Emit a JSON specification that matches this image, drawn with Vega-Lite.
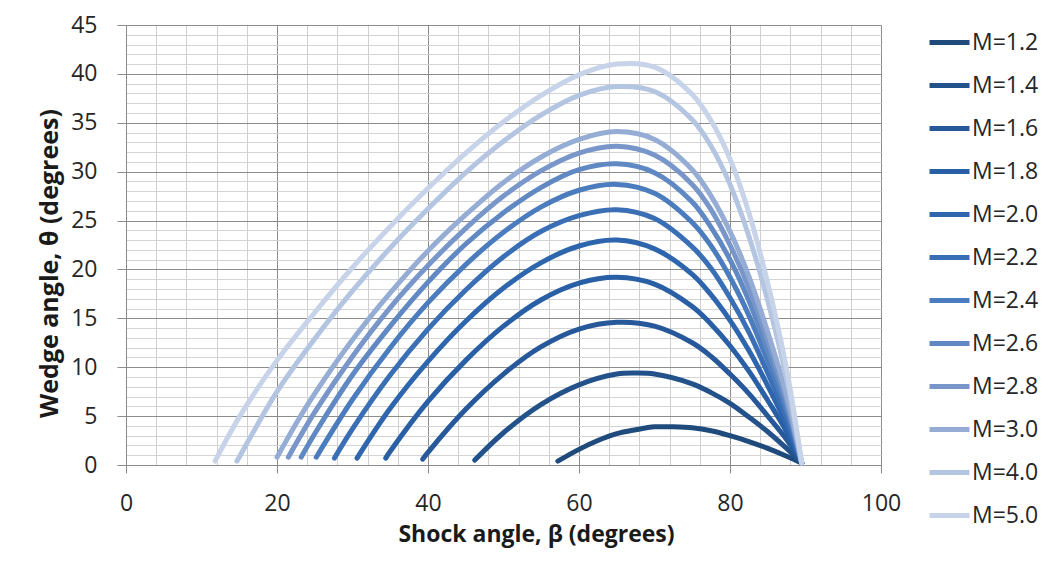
{
  "$schema": "https://vega.github.io/schema/vega-lite/v6.json",
  "width": 755,
  "height": 440,
  "autosize": {"type": "none"},
  "padding": {"left": 126, "top": 25, "right": 175, "bottom": 98},
  "background": "white",
  "config": {
    "font": "Open Sans",
    "view": {"stroke": null},
    "legend": {"labelFont": "Open Sans"}
  },
  "data": {"values": [
    {"M":"M=1.2","b":57.2,"t":0.4},{"M":"M=1.2","b":60,"t":1.6},{"M":"M=1.2","b":62.5,"t":2.5},{"M":"M=1.2","b":65,"t":3.2},{"M":"M=1.2","b":67.5,"t":3.6},{"M":"M=1.2","b":70,"t":3.9},{"M":"M=1.2","b":72.5,"t":3.9},{"M":"M=1.2","b":75,"t":3.8},{"M":"M=1.2","b":77.5,"t":3.5},{"M":"M=1.2","b":80,"t":3.0},{"M":"M=1.2","b":82.5,"t":2.4},{"M":"M=1.2","b":85,"t":1.7},{"M":"M=1.2","b":87.5,"t":0.9},{"M":"M=1.2","b":89.5,"t":0.2},
    {"M":"M=1.4","b":46.2,"t":0.5},{"M":"M=1.4","b":50,"t":3.3},{"M":"M=1.4","b":55,"t":6.2},{"M":"M=1.4","b":60,"t":8.2},{"M":"M=1.4","b":65,"t":9.3},{"M":"M=1.4","b":67.5,"t":9.4},{"M":"M=1.4","b":70,"t":9.3},{"M":"M=1.4","b":75,"t":8.3},{"M":"M=1.4","b":77.5,"t":7.4},{"M":"M=1.4","b":80,"t":6.3},{"M":"M=1.4","b":82.5,"t":4.9},{"M":"M=1.4","b":85,"t":3.4},{"M":"M=1.4","b":87.5,"t":1.7},{"M":"M=1.4","b":89.5,"t":0.2},
    {"M":"M=1.6","b":39.3,"t":0.6},{"M":"M=1.6","b":40,"t":1.3},{"M":"M=1.6","b":45,"t":5.7},{"M":"M=1.6","b":50,"t":9.3},{"M":"M=1.6","b":55,"t":12.1},{"M":"M=1.6","b":60,"t":13.9},{"M":"M=1.6","b":65,"t":14.6},{"M":"M=1.6","b":70,"t":14.2},{"M":"M=1.6","b":75,"t":12.5},{"M":"M=1.6","b":77.5,"t":11.1},{"M":"M=1.6","b":80,"t":9.3},{"M":"M=1.6","b":82.5,"t":7.3},{"M":"M=1.6","b":85,"t":5.0},{"M":"M=1.6","b":87.5,"t":2.6},{"M":"M=1.6","b":89.5,"t":0.2},
    {"M":"M=1.8","b":34.4,"t":0.7},{"M":"M=1.8","b":35,"t":1.4},{"M":"M=1.8","b":40,"t":6.5},{"M":"M=1.8","b":45,"t":10.7},{"M":"M=1.8","b":50,"t":14.2},{"M":"M=1.8","b":55,"t":16.9},{"M":"M=1.8","b":60,"t":18.6},{"M":"M=1.8","b":65,"t":19.2},{"M":"M=1.8","b":70,"t":18.5},{"M":"M=1.8","b":75,"t":16.2},{"M":"M=1.8","b":77.5,"t":14.4},{"M":"M=1.8","b":80,"t":12.2},{"M":"M=1.8","b":82.5,"t":9.6},{"M":"M=1.8","b":85,"t":6.6},{"M":"M=1.8","b":87.5,"t":3.4},{"M":"M=1.8","b":89.5,"t":0.2},
    {"M":"M=2.0","b":30.6,"t":0.7},{"M":"M=2.0","b":35,"t":5.8},{"M":"M=2.0","b":40,"t":10.6},{"M":"M=2.0","b":45,"t":14.7},{"M":"M=2.0","b":50,"t":18.1},{"M":"M=2.0","b":55,"t":20.7},{"M":"M=2.0","b":60,"t":22.4},{"M":"M=2.0","b":65,"t":23.0},{"M":"M=2.0","b":70,"t":22.1},{"M":"M=2.0","b":75,"t":19.5},{"M":"M=2.0","b":77.5,"t":17.4},{"M":"M=2.0","b":80,"t":14.8},{"M":"M=2.0","b":82.5,"t":11.7},{"M":"M=2.0","b":85,"t":8.1},{"M":"M=2.0","b":87.5,"t":4.1},{"M":"M=2.0","b":89.5,"t":0.2},
    {"M":"M=2.2","b":27.6,"t":0.7},{"M":"M=2.2","b":30,"t":3.7},{"M":"M=2.2","b":35,"t":9.2},{"M":"M=2.2","b":40,"t":13.9},{"M":"M=2.2","b":45,"t":17.9},{"M":"M=2.2","b":50,"t":21.3},{"M":"M=2.2","b":55,"t":23.9},{"M":"M=2.2","b":60,"t":25.5},{"M":"M=2.2","b":65,"t":26.1},{"M":"M=2.2","b":70,"t":25.2},{"M":"M=2.2","b":75,"t":22.3},{"M":"M=2.2","b":77.5,"t":20.1},{"M":"M=2.2","b":80,"t":17.1},{"M":"M=2.2","b":82.5,"t":13.6},{"M":"M=2.2","b":85,"t":9.4},{"M":"M=2.2","b":87.5,"t":4.8},{"M":"M=2.2","b":89.5,"t":0.2},
    {"M":"M=2.4","b":25.2,"t":0.8},{"M":"M=2.4","b":30,"t":6.7},{"M":"M=2.4","b":35,"t":12.0},{"M":"M=2.4","b":40,"t":16.6},{"M":"M=2.4","b":45,"t":20.5},{"M":"M=2.4","b":50,"t":23.8},{"M":"M=2.4","b":55,"t":26.4},{"M":"M=2.4","b":60,"t":28.1},{"M":"M=2.4","b":65,"t":28.7},{"M":"M=2.4","b":70,"t":27.8},{"M":"M=2.4","b":75,"t":24.8},{"M":"M=2.4","b":77.5,"t":22.4},{"M":"M=2.4","b":80,"t":19.2},{"M":"M=2.4","b":82.5,"t":15.3},{"M":"M=2.4","b":85,"t":10.6},{"M":"M=2.4","b":87.5,"t":5.5},{"M":"M=2.4","b":89.5,"t":0.2},
    {"M":"M=2.6","b":23.2,"t":0.8},{"M":"M=2.6","b":25,"t":3.2},{"M":"M=2.6","b":30,"t":9.2},{"M":"M=2.6","b":35,"t":14.2},{"M":"M=2.6","b":40,"t":18.7},{"M":"M=2.6","b":45,"t":22.6},{"M":"M=2.6","b":50,"t":25.8},{"M":"M=2.6","b":55,"t":28.4},{"M":"M=2.6","b":60,"t":30.2},{"M":"M=2.6","b":65,"t":30.8},{"M":"M=2.6","b":70,"t":29.9},{"M":"M=2.6","b":75,"t":26.9},{"M":"M=2.6","b":77.5,"t":24.3},{"M":"M=2.6","b":80,"t":21.0},{"M":"M=2.6","b":82.5,"t":16.8},{"M":"M=2.6","b":85,"t":11.7},{"M":"M=2.6","b":87.5,"t":6.1},{"M":"M=2.6","b":89.5,"t":0.2},
    {"M":"M=2.8","b":21.5,"t":0.8},{"M":"M=2.8","b":25,"t":5.4},{"M":"M=2.8","b":30,"t":11.1},{"M":"M=2.8","b":35,"t":16.1},{"M":"M=2.8","b":40,"t":20.4},{"M":"M=2.8","b":45,"t":24.2},{"M":"M=2.8","b":50,"t":27.5},{"M":"M=2.8","b":55,"t":30.1},{"M":"M=2.8","b":60,"t":31.9},{"M":"M=2.8","b":65,"t":32.6},{"M":"M=2.8","b":70,"t":31.7},{"M":"M=2.8","b":75,"t":28.7},{"M":"M=2.8","b":77.5,"t":26.1},{"M":"M=2.8","b":80,"t":22.5},{"M":"M=2.8","b":82.5,"t":18.1},{"M":"M=2.8","b":85,"t":12.7},{"M":"M=2.8","b":87.5,"t":6.6},{"M":"M=2.8","b":89.5,"t":0.2},
    {"M":"M=3.0","b":20,"t":0.8},{"M":"M=3.0","b":22.5,"t":4.2},{"M":"M=3.0","b":25,"t":7.3},{"M":"M=3.0","b":30,"t":12.8},{"M":"M=3.0","b":35,"t":17.6},{"M":"M=3.0","b":40,"t":21.9},{"M":"M=3.0","b":45,"t":25.6},{"M":"M=3.0","b":50,"t":28.9},{"M":"M=3.0","b":55,"t":31.5},{"M":"M=3.0","b":60,"t":33.3},{"M":"M=3.0","b":65,"t":34.1},{"M":"M=3.0","b":70,"t":33.3},{"M":"M=3.0","b":75,"t":30.2},{"M":"M=3.0","b":77.5,"t":27.5},{"M":"M=3.0","b":80,"t":23.9},{"M":"M=3.0","b":82.5,"t":19.3},{"M":"M=3.0","b":85,"t":13.6},{"M":"M=3.0","b":87.5,"t":7.1},{"M":"M=3.0","b":89.5,"t":0.2},
    {"M":"M=4.0","b":14.7,"t":0.4},{"M":"M=4.0","b":15,"t":0.8},{"M":"M=4.0","b":20,"t":7.5},{"M":"M=4.0","b":25,"t":12.9},{"M":"M=4.0","b":30,"t":17.8},{"M":"M=4.0","b":35,"t":22.2},{"M":"M=4.0","b":40,"t":26.2},{"M":"M=4.0","b":45,"t":29.9},{"M":"M=4.0","b":50,"t":33.1},{"M":"M=4.0","b":55,"t":35.8},{"M":"M=4.0","b":60,"t":37.8},{"M":"M=4.0","b":65,"t":38.7},{"M":"M=4.0","b":70,"t":38.2},{"M":"M=4.0","b":75,"t":35.3},{"M":"M=4.0","b":77.5,"t":32.6},{"M":"M=4.0","b":80,"t":28.7},{"M":"M=4.0","b":82.5,"t":23.4},{"M":"M=4.0","b":85,"t":16.8},{"M":"M=4.0","b":87.5,"t":8.8},{"M":"M=4.0","b":89.5,"t":0.2},
    {"M":"M=5.0","b":11.8,"t":0.4},{"M":"M=5.0","b":15,"t":4.9},{"M":"M=5.0","b":20,"t":10.7},{"M":"M=5.0","b":25,"t":15.6},{"M":"M=5.0","b":30,"t":20.2},{"M":"M=5.0","b":35,"t":24.4},{"M":"M=5.0","b":40,"t":28.3},{"M":"M=5.0","b":45,"t":31.9},{"M":"M=5.0","b":50,"t":35.1},{"M":"M=5.0","b":55,"t":37.8},{"M":"M=5.0","b":60,"t":39.9},{"M":"M=5.0","b":65,"t":41.0},{"M":"M=5.0","b":70,"t":40.7},{"M":"M=5.0","b":75,"t":37.9},{"M":"M=5.0","b":77.5,"t":35.2},{"M":"M=5.0","b":80,"t":31.3},{"M":"M=5.0","b":82.5,"t":25.8},{"M":"M=5.0","b":85,"t":18.6},{"M":"M=5.0","b":87.5,"t":9.8},{"M":"M=5.0","b":89.5,"t":0.2}
  ]},
  "mark": {"type": "line", "strokeWidth": 5, "strokeCap": "round", "strokeJoin": "round", "interpolate": "catmull-rom"},
  "encoding": {
    "x": {
      "field": "b", "type": "quantitative",
      "scale": {"domain": [0, 100], "nice": false, "zero": false},
      "axis": {
        "values": [0,4,8,12,16,20,24,28,32,36,40,44,48,52,56,60,64,68,72,76,80,84,88,92,96,100],
        "labelExpr": "datum.value % 20 === 0 ? datum.label : ''",
        "labelOverlap": false,
        "labelBound": false,
        "labelFlush": false,
        "grid": true,
        "gridColor": {"condition": {"test": "datum.value % 20 === 0", "value": "#8c8c8c"}, "value": "#cfcfcf"},
        "gridWidth": 1,
        "tickColor": {"condition": {"test": "datum.value % 20 === 0", "value": "#8c8c8c"}, "value": "transparent"},
        "tickSize": 8,
        "domainColor": "#8c8c8c",
        "labelFont": "Open Sans",
        "labelFontSize": 23,
        "labelColor": "#262626",
        "labelPadding": 19,
        "title": "Shock angle, β (degrees)",
        "titleFont": "Open Sans",
        "titleFontSize": 23,
        "titleFontWeight": "bold",
        "titleColor": "#1a1a1a",
        "titlePadding": 8,
        "titleX": 410
      }
    },
    "y": {
      "field": "t", "type": "quantitative",
      "scale": {"domain": [0, 45], "nice": false, "zero": true},
      "axis": {
        "values": [0,1,2,3,4,5,6,7,8,9,10,11,12,13,14,15,16,17,18,19,20,21,22,23,24,25,26,27,28,29,30,31,32,33,34,35,36,37,38,39,40,41,42,43,44,45],
        "labelExpr": "datum.value % 5 === 0 ? datum.label : ''",
        "labelOverlap": false,
        "labelBound": false,
        "labelFlush": false,
        "grid": true,
        "gridColor": {"condition": {"test": "datum.value % 5 === 0", "value": "#8c8c8c"}, "value": "#d4d4d4"},
        "gridWidth": 1,
        "tickColor": {"condition": {"test": "datum.value % 5 === 0", "value": "#8c8c8c"}, "value": "transparent"},
        "tickSize": 9,
        "domainColor": "#8c8c8c",
        "labelFont": "Open Sans",
        "labelFontSize": 23,
        "labelColor": "#262626",
        "labelPadding": 20,
        "title": "Wedge angle, θ (degrees)",
        "titleFont": "Open Sans",
        "titleFontSize": 25,
        "titleFontWeight": "bold",
        "titleColor": "#1a1a1a",
        "titlePadding": 8,
        "titleY": 238
      }
    },
    "color": {
      "field": "M", "type": "nominal",
      "scale": {
        "domain": ["M=1.2","M=1.4","M=1.6","M=1.8","M=2.0","M=2.2","M=2.4","M=2.6","M=2.8","M=3.0","M=4.0","M=5.0"],
        "range": ["#1f4a7c","#23528a","#26589a","#295fa4","#2e66ae","#3a6fb6","#4a7cbe","#6088c3","#7896c9","#95acd4","#b4c5e1","#c7d3e8"]
      },
      "legend": {
        "title": null,
        "orient": "none",
        "legendX": 801,
        "legendY": -5,
        "padding": 0,
        "symbolType": "stroke",
        "symbolSize": 1600,
        "symbolStrokeWidth": 5,
        "labelFontSize": 23,
        "labelColor": "#262626",
        "labelOffset": 0,
        "rowPadding": 8
      }
    }
  }
}
